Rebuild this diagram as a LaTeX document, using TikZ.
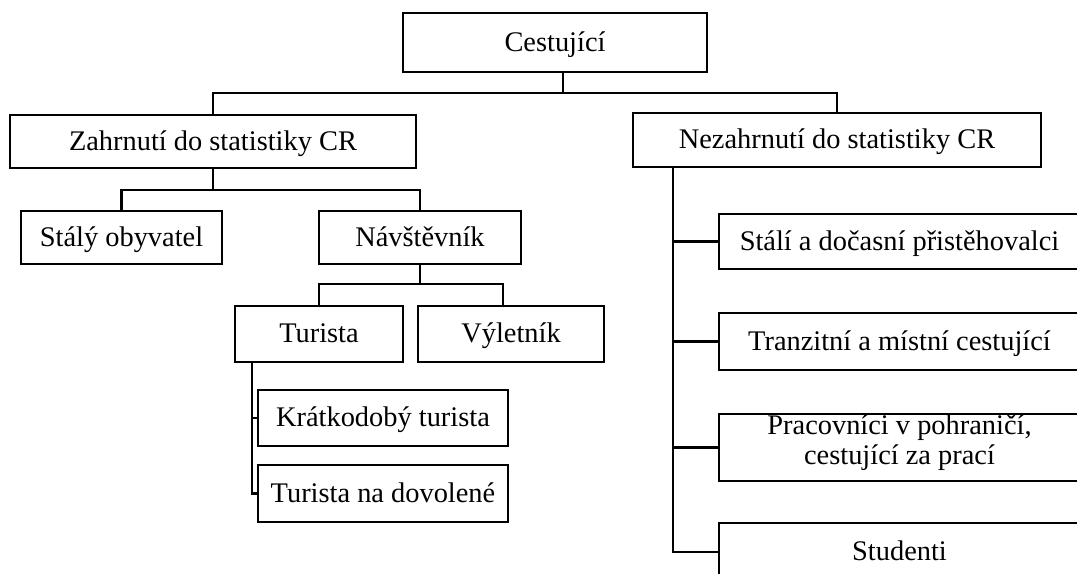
\documentclass[tikz,border=0pt]{standalone}
\usepackage{fontspec}
\setmainfont{Liberation Serif}
\tikzset{
  box/.style={draw, line width=1.8pt, inner sep=0pt, align=center,
    text height=16pt, text depth=2.8pt,
    font=\fontsize{21.3}{22.5}\selectfont},
  link/.style={line width=1.8pt}
}
\begin{document}
\begin{tikzpicture}[x=0.75pt,y=-0.75pt]
      \useasboundingbox (0,0) rectangle (1077,574);
      \clip (0,0) rectangle (1077,574);
      \node[box, minimum width=304*0.75pt, minimum height=59*0.75pt] (cest) at (555,42.5) {Cestující};
      \node[box, minimum width=406*0.75pt, minimum height=53*0.75pt] (zahr) at (213,141.5) {Zahrnutí do statistiky CR};
      \node[box, minimum width=408*0.75pt, minimum height=54*0.75pt] (nezahr) at (837,140) {Nezahrnutí do statistiky CR};
      \node[box, minimum width=201*0.75pt, minimum height=53*0.75pt] (staly) at (121.5,237.5) {Stálý obyvatel};
      \node[box, minimum width=202*0.75pt, minimum height=53*0.75pt] (navst) at (420,237.5) {Návštěvník};
      \node[box, minimum width=168*0.75pt, minimum height=56*0.75pt] (turista) at (319,334) {Turista};
      \node[box, minimum width=186*0.75pt, minimum height=56*0.75pt] (vylet) at (511,334) {Výletník};
      \node[box, minimum width=250*0.75pt, minimum height=56*0.75pt] (kratk) at (383,418) {Krátkodobý turista};
      \node[box, minimum width=250*0.75pt, minimum height=57*0.75pt] (dovol) at (383,493.5) {Turista na dovolené};
      \node[box, minimum width=361*0.75pt, minimum height=55*0.75pt] (prist) at (899.5,241.5) {Stálí a dočasní přistěhovalci};
      \node[box, minimum width=361*0.75pt, minimum height=57*0.75pt] (tranz) at (899.5,341.5) {Tranzitní a místní cestující};
      \node[box, text height=27.6pt, minimum width=361*0.75pt, minimum height=67*0.75pt] (prac) at (899.5,447.5) {Pracovníci v pohraničí,\\cestující za prací};
      \node[box, minimum width=361*0.75pt, minimum height=58*0.75pt] (stud) at (899.5,552) {Studenti};
      % tree links
      \coordinate (root) at (563,93);
      \coordinate (zs) at (213,190);
      \coordinate (ns) at (420,284);
      \coordinate (tl) at (252,362);
      \coordinate (nl) at (673,167);
      \begin{scope}[link]
        \draw (root |- cest.south) -- (root);
        \draw (zahr.north) |- (root) -| (nezahr.north);
        \draw (zahr.south) -- (zs);
        \draw (staly.north) |- (zs) -| (navst.north);
        \draw (navst.south) -- (ns);
        \draw (turista.north) |- (ns) -| ([xshift=-6pt]vylet.north);
        \draw (tl) |- (dovol.west);
        \draw (kratk.west) -- (kratk.west -| tl);
        \draw (nl) |- (stud.west);
        \draw (prist.west) -- (prist.west -| nl);
        \draw (tranz.west) -- (tranz.west -| nl);
        \draw (prac.west) -- (prac.west -| nl);
      \end{scope}
\end{tikzpicture}
\end{document}
